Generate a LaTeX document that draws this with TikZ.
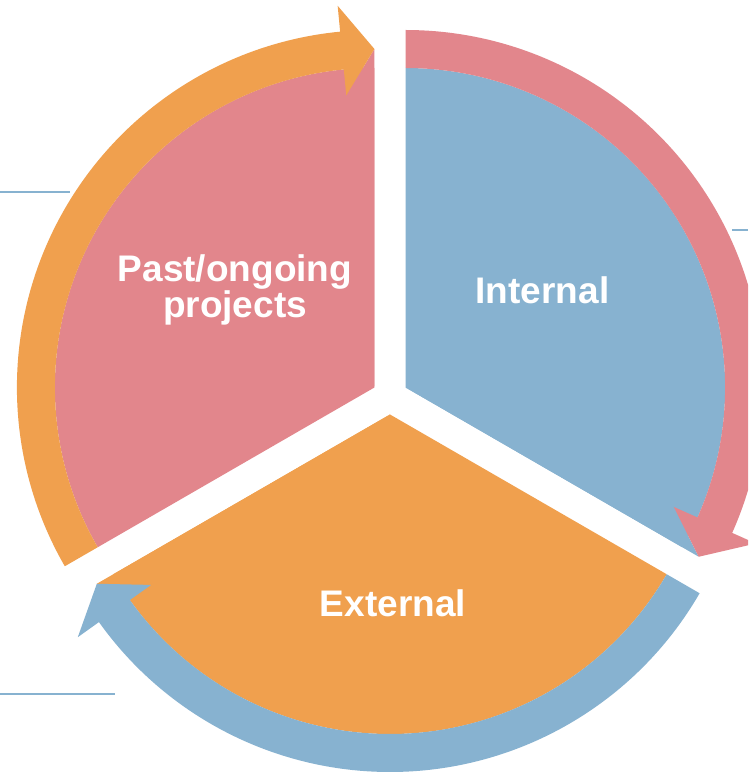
\documentclass[tikz,border=0pt]{standalone}
\usepackage{fontspec}
\setmainfont{Liberation Sans}
\usetikzlibrary{calc}
\definecolor{pinkC}{RGB}{226,134,140}
\definecolor{orangeC}{RGB}{240,160,78}
\definecolor{blueC}{RGB}{135,178,208}
\tikzset{
  lbl/.style={text=white, font=\fontsize{37}{29}\selectfont\bfseries, inner sep=0pt, align=center},
  guide/.style={draw=blueC, line width=2.2}
}
% sector: color, start angle, end angle, center, head base angle, tip angle
\newcommand{\piesector}[6]{%
  \begin{scope}[shift={(#4)}]
    \fill[#1] (0,0) -- (#2:319.5) arc[start angle=#2, end angle=#3, radius=319.5] -- cycle;
    \fill[#1] (0,0) -- (#6:338.5) -- (#5:293.5) -- cycle;
  \end{scope}}
\newcommand{\ringarrow}[5]{% color, start angle, base angle, tip angle, center
  \begin{scope}[shift={(#5)}]
    \fill[#1] (#2:357.5) arc[start angle=#2, end angle=#3, radius=357.5]
      -- (#3:383.5) -- (#4:338.5) -- (#3:293.5) -- (#3:319.5)
      arc[start angle=#3, end angle=#2, radius=319.5] -- cycle;
  \end{scope}}
\begin{document}
\begin{tikzpicture}[x=1pt,y=1pt]
\clip (0,0) rectangle (748,772);
\fill[white] (0,0) rectangle (748,772);
\coordinate (cp) at (374.41,384.5);
\coordinate (cb) at (405.59,384.5);
\coordinate (co) at (390,357.5);
% sectors
\piesector{pinkC}{90}{210}{cp}{95.5}{90}
\piesector{blueC}{-30}{90}{cb}{-24}{-30}
\piesector{orangeC}{210}{330}{co}{215.5}{210}
% ring arrows
\ringarrow{orangeC}{210}{95.5}{90}{cp}
\ringarrow{pinkC}{90}{-24}{-30}{cb}
\ringarrow{blueC}{-30}{-144.5}{-150}{co}
% guide lines
\coordinate (g1a) at (0,580); \coordinate (g1b) at (70,580);
\coordinate (g2a) at (732,542); \coordinate (g2b) at (748,542);
\coordinate (g3a) at (0,78); \coordinate (g3b) at (115,78);
\draw[guide] (g1a) -- (g1b);
\draw[guide] (g2a) -- (g2b);
\draw[guide] (g3a) -- (g3b);
% labels
\node[lbl] (past) at (235,482) {Past/ongoing\\projects};
\node[lbl, anchor=base] (internal) at (542.5,468) {Internal};
\node[lbl, anchor=base] (external) at (393,155) {External};
\end{tikzpicture}
\end{document}
